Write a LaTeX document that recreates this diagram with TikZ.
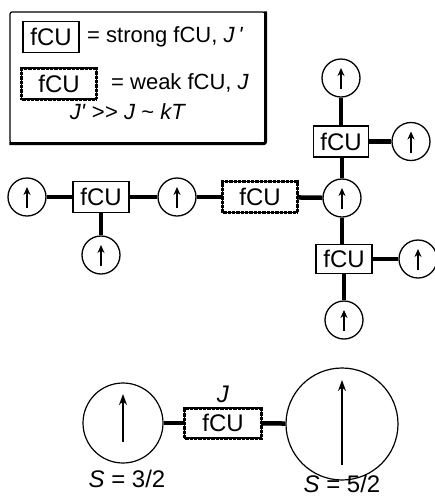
\documentclass[tikz,border=0pt]{standalone}
\usepackage{fontspec}
\setmainfont{Liberation Sans}
\usetikzlibrary{arrows.meta}

\begin{document}
\begin{tikzpicture}[
        x=1pt, y=-1pt,
        every node/.style={font=\fontsize{24}{26}\selectfont, inner sep=0pt},
        keytext/.style={font=\fontsize{22}{24}\selectfont},
        strong/.style={draw, rectangle, line width=1.3pt, minimum width=56pt, minimum height=31pt},
        weak/.style={draw, rectangle, line width=1.2pt, minimum width=75pt, minimum height=31pt,
            postaction={draw, line width=3pt, dash pattern=on 0.8pt off 0.5pt}},
        spin/.style={draw, circle, line width=1.3pt, minimum size=38pt,
            path picture={\draw[line width=1.9pt, -{Stealth[length=8pt,width=7pt]}]
                ([yshift=-11pt]path picture bounding box.center) -- ([yshift=10pt]path picture bounding box.center);}},
        bigspin/.style n args={3}{draw, circle, line width=1.2pt, minimum size=#1,
            path picture={\draw[line width=1.6pt, -{Stealth[length=11pt,width=8pt]}]
                ([yshift=-#2]path picture bounding box.center) -- ([yshift=#3]path picture bounding box.center);}},
        bond/.style={line width=4.5pt},
    ]
    \useasboundingbox (0,0) rectangle (435,499);

    % key
    \node[draw, line width=1.2pt, rounded corners=2pt, minimum width=255pt, minimum height=131pt] (key) at (137.5,77.5) {};
    \draw[line width=3pt, rounded corners=2pt] (key.north east) -- (key.south east) -- (key.south west);
    \node[strong] (keystrong) at (51,37) {fCU};
    \node[keytext, anchor=west] (strongtxt) at (87,37) {= strong fCU, \textit{J}\,\textit{\textquotesingle}};
    \node[weak] (keyweak) at (59,83.5) {fCU};
    \node[keytext, anchor=west] (weaktxt) at (111,83) {= weak fCU, \textit{J}};
    \node[keytext] (relation) at (128,112) {\textit{J\textquotesingle} \mbox{>}\kern0.5pt\mbox{>} \textit{J} \textasciitilde\ \textit{kT}};

    % chain
    \node[spin] (s1) at (27,197) {};
    \node[strong] (c1) at (101,197) {fCU};
    \node[spin] (s2) at (101,255) {};
    \node[spin] (s3) at (177,197) {};
    \node[weak] (w1) at (260,197) {fCU};
    \node[spin] (s4) at (342,198) {};
    \node[strong, minimum width=55pt] (c2) at (341,141.5) {fCU};
    \node[spin] (s5) at (341,78) {};
    \node[spin] (s6) at (411,141.5) {};
    \node[strong, minimum height=29pt] (c3) at (344,259) {fCU};
    \node[spin] (s7) at (418,259) {};
    \node[spin] (s8) at (344,320) {};

    \draw[bond] (s1) -- (c1);
    \draw[bond] (c1) -- (s2);
    \draw[bond] (c1) -- (s3);
    \draw[bond] (s3) -- (w1);
    \draw[bond] (w1) -- (s4);
    \draw[bond] (s4) -- (s4 |- c2.south);
    \draw[bond] (c2) -- (s5);
    \draw[bond] (c2) -- (s6);
    \draw[bond] (s4) -- (s4 |- c3.north);
    \draw[bond] (c3) -- (s7);
    \draw[bond] (c3) -- (s8);

    % pair
    \node[bigspin={80pt}{19pt}{29pt}] (b1) at (123,423) {};
    \node[weak, minimum width=77pt, minimum height=30pt] (w2) at (223,423) {fCU};
    \node[bigspin={112pt}{41pt}{44pt}] (b2) at (342,424) {};
    \node[above=4pt] (jlabel) at (w2.north) {\textit{J}};
    \node (spinA) at (127,479) {\textit{S} = 3/2};
    \node (spinB) at (342,484) {\textit{S} = 5/2};

    \draw[bond] (b1) -- (w2);
    \draw[bond] (w2) -- (b2);

\end{tikzpicture}
\end{document}
